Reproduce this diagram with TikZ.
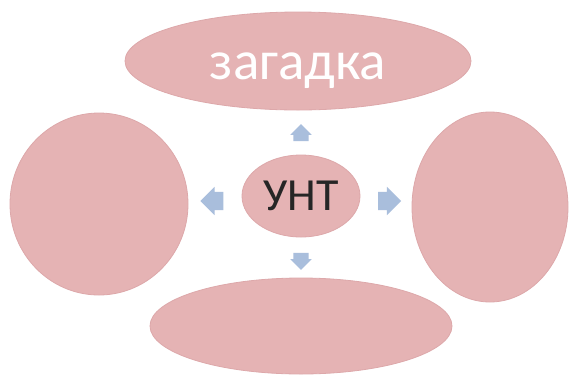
\documentclass[tikz,border=0pt]{standalone}
\usepackage{fontspec}
\setmainfont{Carlito}
\usetikzlibrary{shapes.geometric,shapes.arrows}
\definecolor{pinkfill}{HTML}{E5B3B4}
\definecolor{pinkedge}{HTML}{DDA8AA}
\definecolor{arrowblue}{HTML}{A9BEDC}
\definecolor{darktext}{HTML}{262626}
\tikzset{
  blob/.style={ellipse, fill=pinkfill, draw=pinkedge, line width=0.8pt, inner sep=0pt},
  blockarrow/.style={single arrow, fill=arrowblue, draw=none, inner xsep=0pt,
    text height=0pt, text depth=0pt, single arrow head extend=3pt},
  smallarrow/.style={blockarrow, minimum height=17pt, inner ysep=7.5pt},
  sidearrow/.style={blockarrow, minimum height=23pt, inner ysep=9pt, single arrow head extend=5pt}
}
\begin{document}
\begin{tikzpicture}[x=1pt,y=-1pt]
\useasboundingbox (0,0) rectangle (571,376);
\fill[white] (0,0) rectangle (571,376);
\node[blob, minimum width=346pt, minimum height=98pt] (top) at (298,61) {};
\node[text=white, font=\fontsize{55}{60}\selectfont, inner sep=0pt] (toplabel) at (298,71) {загадка};
\node[blob, minimum width=178pt, minimum height=182pt] (left) at (99,204) {};
\node[blob, minimum width=156pt, minimum height=190pt] (right) at (490,207) {};
\node[blob, minimum width=302pt, minimum height=96pt] (bottom) at (301,326) {};
\node[blob, minimum width=118pt, minimum height=82pt, text=darktext, font=\fontsize{46}{50}\selectfont] (center) at (301,196) {УНТ};
\node[smallarrow, rotate=90] (aup) at (301,136.5) {};
\node[smallarrow, rotate=-90] (adown) at (301,257.5) {};
\node[sidearrow, rotate=180] (aleft) at (216.5,201) {};
\node[sidearrow] (aright) at (385,201) {};
\end{tikzpicture}
\end{document}
